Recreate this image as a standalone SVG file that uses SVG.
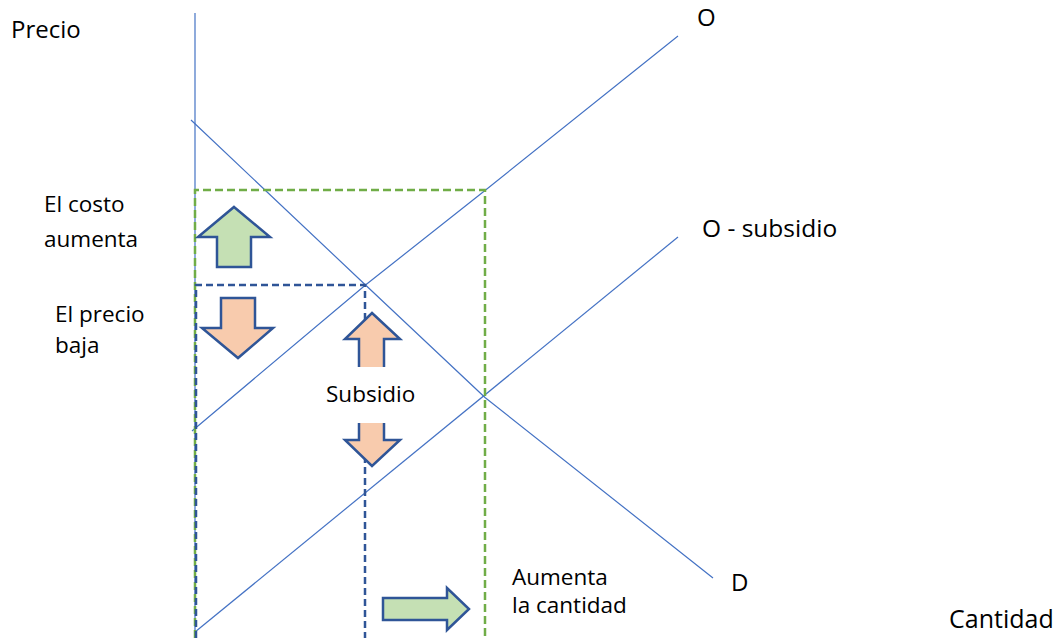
<svg xmlns="http://www.w3.org/2000/svg" width="1063" height="638" viewBox="0 0 1063 638">
  <style>
    .curve { stroke: #4472C4; stroke-width: 1.2; fill: none; stroke-linejoin: round; }
    .guide-green { stroke: #70AD47; stroke-width: 2.5; stroke-dasharray: 8 4; fill: none; }
    .guide-blue { stroke: #2F5597; stroke-width: 2.5; stroke-dasharray: 7 4; fill: none; }
    .arrow { stroke: #2F5597; stroke-width: 2.5; stroke-linejoin: miter; }
    .up { fill: #C5E0B4; }
    .down { fill: #F8CBAD; }
    text { font-family: "Open Sans", "Liberation Sans", sans-serif; fill: #000; }
    .lbl { font-size: 22.5px; }
    .axis { font-size: 24px; }
  </style>

  <rect width="1063" height="638" fill="#ffffff"/>

  <!-- axis and curves -->
  <g id="connectors">
    <line class="curve" x1="195" y1="13" x2="195" y2="638"/>
    <path id="demand" class="curve" d="M191,120 L365.5,285 L485,397.5 L713,578"/>
    <path id="supply" class="curve" d="M192,431 L365.5,285 L485,190.5 L678,36"/>
    <line id="supply-subsidy" class="curve" x1="195" y1="632" x2="678" y2="237"/>

    <!-- guide rectangles to the equilibria -->
    <path class="guide-green" d="M195,638 V190 H485 V638"/>
    <path class="guide-blue" d="M196,638 V285 H365 V638"/>
  </g>

  <!-- cost rises -->
  <g id="cost-up">
    <polygon class="arrow up" points="234,207 270,237 251,237 251,267 217,267 217,237 198,237"/>
  </g>

  <!-- price falls -->
  <g id="price-down">
    <polygon class="arrow down" points="221,298 255,298 255,328 273,328 238,358 202,328 221,328"/>
  </g>

  <!-- subsidy double arrow with its label box -->
  <g id="subsidy">
    <polygon class="arrow down" points="372,313 400,339 384,339 384,440 400,440 372,466 345,440 359,440 359,339 345,339"/>
    <rect x="330" y="367" width="84" height="56" fill="#ffffff"/>
    <text class="lbl" x="326" y="402">Subsidio</text>
  </g>

  <!-- quantity rises -->
  <g id="quantity-up">
    <polygon class="arrow up" points="383,598 447,598 447,588 469,609 447,630 447,620 383,620"/>
  </g>

  <!-- labels -->
  <g id="labels">
    <text class="axis" x="11" y="38">Precio</text>
    <text class="axis" x="949" y="628" style="font-size:25px">Cantidad</text>
    <text class="axis" x="697" y="26">O</text>
    <text class="axis" x="702" y="237" style="font-size:24.5px">O - subsidio</text>
    <text class="axis" x="731" y="591">D</text>
    <text class="lbl" x="44" y="212">El costo</text>
    <text class="lbl" x="44" y="247">aumenta</text>
    <text class="lbl" x="55" y="322">El precio</text>
    <text class="lbl" x="55" y="353">baja</text>
    <text class="lbl" x="512" y="585">Aumenta</text>
    <text class="lbl" x="512" y="613">la cantidad</text>
  </g>
</svg>
